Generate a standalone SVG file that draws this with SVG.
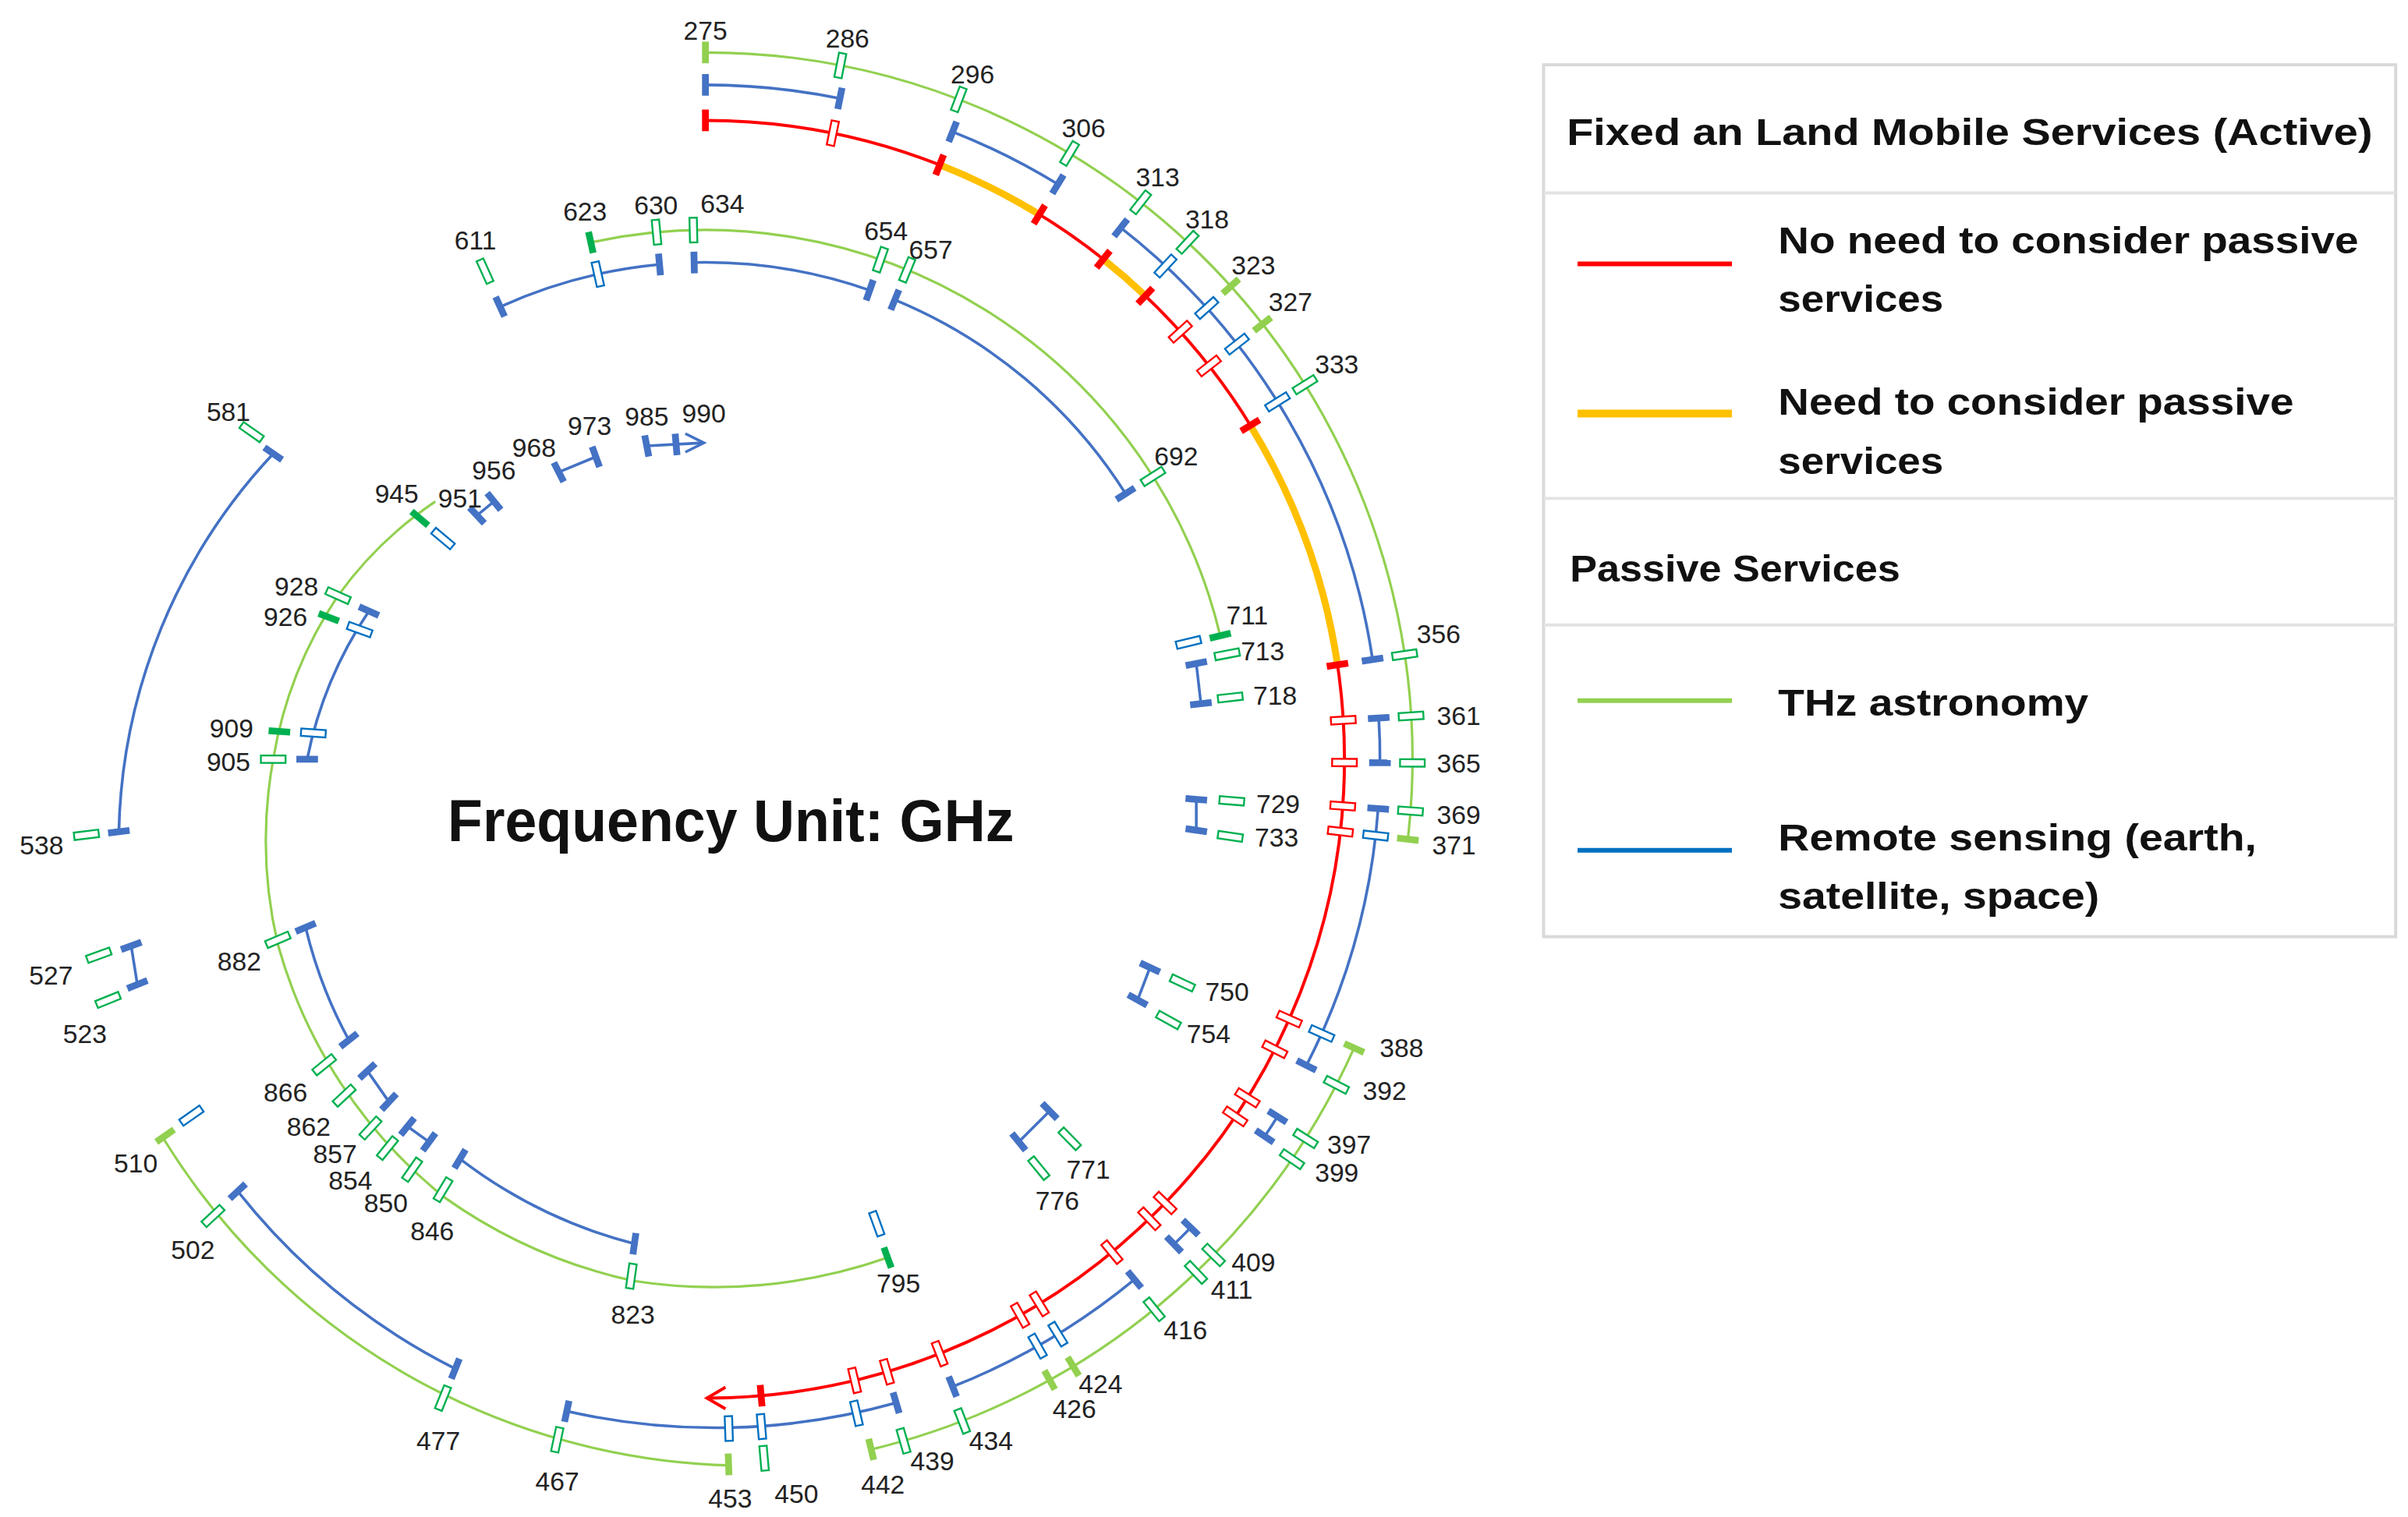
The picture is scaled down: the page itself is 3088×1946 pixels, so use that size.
<svg xmlns="http://www.w3.org/2000/svg" xmlns:xlink="http://www.w3.org/1999/xlink" width="3088" height="1946" viewBox="0 0 3088 1946">
<style>
.g{fill:none;stroke:#92d050;stroke-width:1.6}
.b{fill:none;stroke:#4472c4;stroke-width:1.8}
.r{fill:none;stroke:#ff0000;stroke-width:2}
.y{fill:none;stroke:#ffc000;stroke-width:4.5}
.sb{fill:#4472c4}.sr{fill:#ff0000}.sg{fill:#92d050}.sd{fill:#00b050}
.ob{fill:#fff;stroke:#0070c0;stroke-width:1.2}
.og{fill:#fff;stroke:#00b050;stroke-width:1.2}
.or{fill:#fff;stroke:#ff0000;stroke-width:1.2}
.lb text{font-family:"Liberation Sans",Arial,sans-serif;font-size:17px;fill:#222;text-anchor:middle;dominant-baseline:central}
.lg text{font-family:"Liberation Sans",Arial,sans-serif;font-weight:bold;font-size:24px;fill:#111}
</style>
<defs>
<rect id="st" x="-7" y="-2.2" width="14" height="4.4"/>
<rect id="bx" x="-8" y="-2.4" width="16" height="4.8"/>
</defs>
<rect width="3088" height="1946" fill="#fff"/>
<g transform="scale(1.9795)">
<g id="connectors">
<!-- outer green -->
<path class="g" d="M457,34 A458 458 0 0 1 912.1,543.8"/>
<path class="g" d="M877.2,679.1 A460 460 0 0 1 564.4,939.3"/>
<path class="g" d="M473.8,949.7 A445 445 0 0 1 106,738"/>
<!-- outer blue -->
<path class="b" d="M457,55 A437 437 0 0 1 544.1,63.8"/>
<path class="b" d="M617.2,85.4 A437 437 0 0 1 685.3,119.4"/>
<path class="b" d="M726.1,147.6 A437 437 0 0 1 889.2,427.4"/>
<path class="b" d="M893.2,465.3 A437 437 0 0 1 894,494.3"/>
<path class="b" d="M892.8,524 A437 437 0 0 1 846.4,690.4"/>
<path class="b" d="M827.6,723.6 A437 437 0 0 1 819.3,736.4"/>
<path class="b" d="M771.3,795.6 A437 437 0 0 1 760.6,806.3"/>
<path class="b" d="M734.9,829.2 A437 437 0 0 1 617.2,898.6"/>
<path class="b" d="M580.5,909.1 A434 434 0 0 1 367.2,914.5"/>
<path class="b" d="M295,887 A422 422 0 0 1 154,772"/>
<!-- red / yellow -->
<path class="r" d="M457,78 A414 414 0 0 1 871,492 A414 414 0 0 1 458,906"/>
<path class="y" d="M608.7,106.8 A414 414 0 0 1 673.3,139"/>
<path class="y" d="M714.7,168 A414 414 0 0 1 742,191.7"/>
<path class="y" d="M810,275.7 A414 414 0 0 1 866.5,430.8"/>
<polyline class="r" points="470,899 458,906 470,913"/>
<!-- 600s ring -->
<path class="g" d="M382.8,157.1 A343 343 0 0 1 790.5,411.9"/>
<path class="b" d="M324,198.8 A322 322 0 0 1 427.2,171.4"/>
<path class="b" d="M449.7,170.1 A322 322 0 0 1 563.4,188.1"/>
<path class="b" d="M579.7,194.3 A322 322 0 0 1 729.2,319.9"/>
<line class="b" x1="775" y1="430" x2="778" y2="456"/>
<line class="b" x1="775" y1="518" x2="775" y2="538"/>
<line class="b" x1="745" y1="627" x2="737" y2="648"/>
<line class="b" x1="680" y1="720" x2="660" y2="740"/>
<!-- inner spiral -->
<path class="g" d="M575,815 A340 340 0 0 1 410,830 A335 335 0 0 1 288,776 A320 320 0 0 1 180,612 A295 295 0 0 1 177,492 A270 270 0 0 1 219,386 A250 250 0 0 1 282,325"/>
<path class="b" d="M411,806 A315 315 0 0 1 298,751"/>
<line class="b" x1="278" y1="740" x2="264" y2="730"/>
<line class="b" x1="252" y1="714" x2="238" y2="694"/>
<path class="b" d="M226,674 A295 295 0 0 1 198,601"/>
<path class="b" d="M199,492 A262 262 0 0 1 239,396"/>
<line class="b" x1="309" y1="334" x2="320" y2="325"/>
<line class="b" x1="362" y1="306" x2="386" y2="296"/>
<line class="b" x1="419" y1="289" x2="455" y2="287"/>
<polyline class="b" points="444,281 456,287 444,293"/>
<path class="b" d="M77,539 A370 370 0 0 1 177,294"/>
<line class="b" x1="85" y1="613" x2="89" y2="638"/>
</g>
<g id="markers">
<!-- red ring R414 -->
<g>
<use href="#st" class="sr" x="871" y="492" transform="rotate(-90 457 492)"/>
<use href="#st" class="sr" x="871" y="492" transform="rotate(-68.5 457 492)"/>
<use href="#st" class="sr" x="871" y="492" transform="rotate(-58.5 457 492)"/>
<use href="#st" class="sr" x="871" y="492" transform="rotate(-51.5 457 492)"/>
<use href="#st" class="sr" x="871" y="492" transform="rotate(-46.5 457 492)"/>
<use href="#st" class="sr" x="871" y="492" transform="rotate(-31.5 457 492)"/>
<use href="#st" class="sr" x="871" y="492" transform="rotate(-8.5 457 492)"/>
<use href="#st" class="sr" x="871" y="492" transform="rotate(85 457 492)"/>
<use href="#bx" class="or" x="871" y="492" transform="rotate(-78.5 457 492)"/>
<use href="#bx" class="or" x="871" y="492" transform="rotate(-42 457 492)"/>
<use href="#bx" class="or" x="871" y="492" transform="rotate(-38 457 492)"/>
<use href="#bx" class="or" x="871" y="492" transform="rotate(-3.5 457 492)"/>
<use href="#bx" class="or" x="871" y="492" transform="rotate(0.3 457 492)"/>
<use href="#bx" class="or" x="871" y="492" transform="rotate(4.2 457 492)"/>
<use href="#bx" class="or" x="871" y="492" transform="rotate(6.5 457 492)"/>
<use href="#bx" class="or" x="871" y="492" transform="rotate(24 457 492)"/>
<use href="#bx" class="or" x="871" y="492" transform="rotate(27 457 492)"/>
<use href="#bx" class="or" x="871" y="492" transform="rotate(32 457 492)"/>
<use href="#bx" class="or" x="871" y="492" transform="rotate(34 457 492)"/>
<use href="#bx" class="or" x="871" y="492" transform="rotate(44 457 492)"/>
<use href="#bx" class="or" x="871" y="492" transform="rotate(46 457 492)"/>
<use href="#bx" class="or" x="871" y="492" transform="rotate(50.5 457 492)"/>
<use href="#bx" class="or" x="871" y="492" transform="rotate(58.5 457 492)"/>
<use href="#bx" class="or" x="871" y="492" transform="rotate(60.5 457 492)"/>
<use href="#bx" class="or" x="871" y="492" transform="rotate(68.5 457 492)"/>
<use href="#bx" class="or" x="871" y="492" transform="rotate(73.5 457 492)"/>
<use href="#bx" class="or" x="871" y="492" transform="rotate(76.5 457 492)"/>
</g>
<!-- blue ring R437 -->
<g>
<use href="#st" class="sb" x="894" y="492" transform="rotate(-90 457 492)"/>
<use href="#st" class="sb" x="894" y="492" transform="rotate(-78.5 457 492)"/>
<use href="#st" class="sb" x="894" y="492" transform="rotate(-68.5 457 492)"/>
<use href="#st" class="sb" x="894" y="492" transform="rotate(-58.5 457 492)"/>
<use href="#st" class="sb" x="894" y="492" transform="rotate(-52 457 492)"/>
<use href="#st" class="sb" x="894" y="492" transform="rotate(-8.5 457 492)"/>
<use href="#st" class="sb" x="894" y="492" transform="rotate(-3.5 457 492)"/>
<use href="#st" class="sb" x="894" y="492" transform="rotate(0.3 457 492)"/>
<use href="#st" class="sb" x="894" y="492" transform="rotate(4.2 457 492)"/>
<use href="#st" class="sb" x="894" y="492" transform="rotate(27 457 492)"/>
<use href="#st" class="sb" x="894" y="492" transform="rotate(32 457 492)"/>
<use href="#st" class="sb" x="894" y="492" transform="rotate(34 457 492)"/>
<use href="#st" class="sb" x="894" y="492" transform="rotate(44 457 492)"/>
<use href="#st" class="sb" x="894" y="492" transform="rotate(46 457 492)"/>
<use href="#st" class="sb" x="894" y="492" transform="rotate(50.5 457 492)"/>
<use href="#st" class="sb" x="894" y="492" transform="rotate(68.5 457 492)"/>
<use href="#st" class="sb" x="892" y="492" transform="rotate(73.5 457 492)"/>
<use href="#st" class="sb" x="889" y="492" transform="rotate(102 457 492)"/>
<use href="#bx" class="ob" x="894" y="492" transform="rotate(-47 457 492)"/>
<use href="#bx" class="ob" x="894" y="492" transform="rotate(-42 457 492)"/>
<use href="#bx" class="ob" x="894" y="492" transform="rotate(-38 457 492)"/>
<use href="#bx" class="ob" x="894" y="492" transform="rotate(-32 457 492)"/>
<use href="#bx" class="ob" x="894" y="492" transform="rotate(6.5 457 492)"/>
<use href="#bx" class="ob" x="894" y="492" transform="rotate(24 457 492)"/>
<use href="#bx" class="ob" x="894" y="492" transform="rotate(58.5 457 492)"/>
<use href="#bx" class="ob" x="894" y="492" transform="rotate(60.5 457 492)"/>
<use href="#bx" class="ob" x="892" y="492" transform="rotate(77 457 492)"/>
<use href="#bx" class="ob" x="891" y="492" transform="rotate(85.2 457 492)"/>
<use href="#bx" class="ob" x="891" y="492" transform="rotate(88 457 492)"/>
<use href="#st" class="sb" transform="translate(295 887) rotate(112)"/>
<use href="#st" class="sb" transform="translate(154 772) rotate(137)"/>
<use href="#bx" class="ob" transform="translate(124 723) rotate(145)"/>
</g>
<!-- green rings -->
<g>
<use href="#st" class="sg" x="915" y="492" transform="rotate(-90 457 492)"/>
<use href="#st" class="sg" x="915" y="492" transform="rotate(-42 457 492)"/>
<use href="#st" class="sg" x="915" y="492" transform="rotate(-38 457 492)"/>
<use href="#st" class="sg" x="915" y="492" transform="rotate(6.5 457 492)"/>
<use href="#bx" class="og" x="915" y="492" transform="rotate(-79 457 492)"/>
<use href="#bx" class="og" x="915" y="492" transform="rotate(-69 457 492)"/>
<use href="#bx" class="og" x="915" y="492" transform="rotate(-59 457 492)"/>
<use href="#bx" class="og" x="915" y="492" transform="rotate(-52 457 492)"/>
<use href="#bx" class="og" x="915" y="492" transform="rotate(-47 457 492)"/>
<use href="#bx" class="og" x="915" y="492" transform="rotate(-32 457 492)"/>
<use href="#bx" class="og" x="915" y="492" transform="rotate(-8.5 457 492)"/>
<use href="#bx" class="og" x="915" y="492" transform="rotate(-3.5 457 492)"/>
<use href="#bx" class="og" x="915" y="492" transform="rotate(0.3 457 492)"/>
<use href="#bx" class="og" x="915" y="492" transform="rotate(4.2 457 492)"/>
<use href="#st" class="sg" x="917" y="492" transform="rotate(24 457 492)"/>
<use href="#st" class="sg" x="917" y="492" transform="rotate(58.8 457 492)"/>
<use href="#st" class="sg" x="917" y="492" transform="rotate(61 457 492)"/>
<use href="#st" class="sg" x="917" y="492" transform="rotate(76.5 457 492)"/>
<use href="#bx" class="og" x="917" y="492" transform="rotate(27.3 457 492)"/>
<use href="#bx" class="og" x="917" y="492" transform="rotate(32.3 457 492)"/>
<use href="#bx" class="og" x="917" y="492" transform="rotate(34.3 457 492)"/>
<use href="#bx" class="og" x="917" y="492" transform="rotate(44.3 457 492)"/>
<use href="#bx" class="og" x="917" y="492" transform="rotate(46.3 457 492)"/>
<use href="#bx" class="og" x="917" y="492" transform="rotate(50.8 457 492)"/>
<use href="#bx" class="og" x="917" y="492" transform="rotate(68.8 457 492)"/>
<use href="#bx" class="og" x="917" y="492" transform="rotate(73.8 457 492)"/>
<use href="#st" class="sg" transform="translate(472 949) rotate(88)"/>
<use href="#bx" class="og" transform="translate(495 945) rotate(85)"/>
<use href="#bx" class="og" transform="translate(361 933) rotate(102)"/>
<use href="#bx" class="og" transform="translate(287 906) rotate(112)"/>
<use href="#bx" class="og" transform="translate(138 788) rotate(137)"/>
<use href="#st" class="sg" transform="translate(107 736) rotate(145)"/>
</g>
<!-- 600s ring -->
<g>
<use href="#st" class="sd" x="800" y="492" transform="rotate(-102.5 457 492)"/>
<use href="#st" class="sd" x="800" y="492" transform="rotate(-13.5 457 492)"/>
<use href="#bx" class="og" x="800" y="492" transform="rotate(-95.3 457 492)"/>
<use href="#bx" class="og" x="800" y="492" transform="rotate(-91.3 457 492)"/>
<use href="#bx" class="og" x="800" y="492" transform="rotate(-70.7 457 492)"/>
<use href="#bx" class="og" x="800" y="492" transform="rotate(-67.6 457 492)"/>
<use href="#bx" class="og" x="800" y="492" transform="rotate(-32.3 457 492)"/>
<use href="#bx" class="og" x="804" y="492" transform="rotate(-114.3 457 492)"/>
<use href="#st" class="sb" x="779" y="492" transform="rotate(-114.4 457 492)"/>
<use href="#st" class="sb" x="779" y="492" transform="rotate(-95.3 457 492)"/>
<use href="#st" class="sb" x="779" y="492" transform="rotate(-91.3 457 492)"/>
<use href="#st" class="sb" x="779" y="492" transform="rotate(-70.7 457 492)"/>
<use href="#st" class="sb" x="779" y="492" transform="rotate(-67.6 457 492)"/>
<use href="#st" class="sb" x="779" y="492" transform="rotate(-32.3 457 492)"/>
<use href="#bx" class="ob" x="779" y="492" transform="rotate(-102.5 457 492)"/>
<use href="#bx" class="ob" x="779" y="492" transform="rotate(-13.6 457 492)"/>
<use href="#st" class="sb" transform="translate(775 430) rotate(-11)"/>
<use href="#st" class="sb" transform="translate(778 456) rotate(-6.5)"/>
<use href="#bx" class="og" transform="translate(795 424) rotate(-11)"/>
<use href="#bx" class="og" transform="translate(797 452) rotate(-6.5)"/>
<use href="#st" class="sb" transform="translate(775 518) rotate(4.7)"/>
<use href="#st" class="sb" transform="translate(775 538) rotate(8.2)"/>
<use href="#bx" class="og" transform="translate(798 519) rotate(4.7)"/>
<use href="#bx" class="og" transform="translate(797 542) rotate(8.2)"/>
<use href="#st" class="sb" transform="translate(745 627) rotate(25)"/>
<use href="#st" class="sb" transform="translate(737 648) rotate(29)"/>
<use href="#bx" class="og" transform="translate(766 637) rotate(25)"/>
<use href="#bx" class="og" transform="translate(757 661) rotate(29)"/>
<use href="#st" class="sb" transform="translate(680 720) rotate(45.6)"/>
<use href="#st" class="sb" transform="translate(660 740) rotate(50.7)"/>
<use href="#bx" class="og" transform="translate(693 738) rotate(45.6)"/>
<use href="#bx" class="og" transform="translate(673 757) rotate(50.7)"/>
<use href="#st" class="sd" transform="translate(575 815) rotate(70)"/>
<use href="#bx" class="ob" transform="translate(568 793) rotate(70)"/>
</g>
<!-- inner spiral -->
<g>
<use href="#bx" class="og" transform="translate(409 827) rotate(98)"/>
<use href="#bx" class="og" transform="translate(287 771) rotate(121)"/>
<use href="#bx" class="og" transform="translate(267 758) rotate(125)"/>
<use href="#bx" class="og" transform="translate(251 744) rotate(129)"/>
<use href="#bx" class="og" transform="translate(240 731) rotate(133)"/>
<use href="#bx" class="og" transform="translate(223 710) rotate(137)"/>
<use href="#bx" class="og" transform="translate(210 690) rotate(141)"/>
<use href="#bx" class="og" transform="translate(180 609) rotate(157)"/>
<use href="#st" class="sb" transform="translate(411 806) rotate(98)"/>
<use href="#st" class="sb" transform="translate(298 751) rotate(121)"/>
<use href="#st" class="sb" transform="translate(278 740) rotate(126)"/>
<use href="#st" class="sb" transform="translate(264 730) rotate(129)"/>
<use href="#st" class="sb" transform="translate(252 714) rotate(133)"/>
<use href="#st" class="sb" transform="translate(238 694) rotate(137)"/>
<use href="#st" class="sb" transform="translate(226 674) rotate(142)"/>
<use href="#st" class="sb" transform="translate(198 601) rotate(157)"/>
<use href="#bx" class="og" transform="translate(177 492) rotate(180)"/>
<use href="#st" class="sd" transform="translate(181 474) rotate(184)"/>
<use href="#st" class="sd" transform="translate(213 400) rotate(201)"/>
<use href="#bx" class="og" transform="translate(219 386) rotate(204)"/>
<use href="#st" class="sd" transform="translate(272 336) rotate(220)"/>
<use href="#st" class="sb" transform="translate(199 492) rotate(180)"/>
<use href="#bx" class="ob" transform="translate(203 475) rotate(184)"/>
<use href="#bx" class="ob" transform="translate(233 408) rotate(200)"/>
<use href="#st" class="sb" transform="translate(239 396) rotate(204)"/>
<use href="#bx" class="ob" transform="translate(287 349) rotate(220)"/>
<use href="#st" class="sb" transform="translate(309 334) rotate(227)"/>
<use href="#st" class="sb" transform="translate(320 325) rotate(231)"/>
<use href="#st" class="sb" transform="translate(362 306) rotate(243)"/>
<use href="#st" class="sb" transform="translate(386 296) rotate(250)"/>
<use href="#st" class="sb" transform="translate(419 289) rotate(259)"/>
<use href="#st" class="sb" transform="translate(438 288) rotate(265)"/>
<use href="#st" class="sb" transform="translate(77 539) rotate(173)"/>
<use href="#st" class="sb" transform="translate(177 294) rotate(215)"/>
<use href="#bx" class="og" transform="translate(56 541) rotate(173)"/>
<use href="#bx" class="og" transform="translate(163 280) rotate(215)"/>
<use href="#st" class="sb" transform="translate(85 613) rotate(160)"/>
<use href="#st" class="sb" transform="translate(89 638) rotate(158)"/>
<use href="#bx" class="og" transform="translate(64 619) rotate(160)"/>
<use href="#bx" class="og" transform="translate(70 648) rotate(158)"/>
</g>
</g>
<g id="labels" class="lb">
<text x="457" y="20">275</text><text x="549" y="25">286</text><text x="630" y="48">296</text><text x="702" y="83">306</text>
<text x="750" y="115">313</text><text x="782" y="142">318</text><text x="812" y="172">323</text><text x="836" y="196">327</text>
<text x="866" y="236">333</text><text x="932" y="411">356</text><text x="945" y="464">361</text><text x="945" y="495">365</text>
<text x="945" y="528">369</text><text x="942" y="548">371</text><text x="908" y="679">388</text><text x="897" y="707">392</text>
<text x="874" y="742">397</text><text x="866" y="760">399</text><text x="812" y="818">409</text><text x="798" y="836">411</text>
<text x="768" y="862">416</text><text x="713" y="897">424</text><text x="696" y="913">426</text><text x="642" y="934">434</text>
<text x="604" y="947">439</text><text x="572" y="962">442</text><text x="516" y="968">450</text><text x="473" y="971">453</text>
<text x="361" y="960">467</text><text x="284" y="934">477</text><text x="125" y="810">502</text><text x="88" y="754">510</text>
<text x="55" y="670">523</text><text x="33" y="632">527</text><text x="27" y="548">538</text><text x="148" y="267">581</text>
<text x="308" y="156">611</text><text x="379" y="137">623</text><text x="425" y="133">630</text><text x="468" y="132">634</text>
<text x="574" y="150">654</text><text x="603" y="162">657</text><text x="762" y="296">692</text><text x="808" y="399">711</text>
<text x="818" y="422">713</text><text x="826" y="451">718</text><text x="828" y="521">729</text><text x="827" y="543">733</text>
<text x="795" y="643">750</text><text x="783" y="670">754</text><text x="705" y="758">771</text><text x="685" y="778">776</text>
<text x="582" y="832">795</text><text x="410" y="852">823</text><text x="280" y="798">846</text><text x="250" y="780">850</text>
<text x="227" y="765">854</text><text x="217" y="748">857</text><text x="200" y="730">862</text><text x="185" y="708">866</text>
<text x="155" y="623">882</text><text x="148" y="494">905</text><text x="150" y="472">909</text><text x="185" y="400">926</text>
<text x="192" y="380">928</text><text x="257" y="320">945</text><text x="298" y="323">951</text><text x="320" y="305">956</text>
<text x="346" y="290">968</text><text x="382" y="276">973</text><text x="419" y="270">985</text><text x="456" y="268">990</text>
</g>
<text x="290" y="545" font-family="'Liberation Sans',Arial,sans-serif" font-weight="bold" font-size="38" textLength="367" lengthAdjust="spacingAndGlyphs" fill="#111">Frequency Unit: GHz</text>
<g id="legend" class="lg">
<rect x="1000" y="42" width="552" height="565" fill="#fff" stroke="#d9d9d9" stroke-width="2"/>
<line x1="1000" y1="125" x2="1552" y2="125" stroke="#e3e3e3" stroke-width="2"/>
<line x1="1000" y1="323" x2="1552" y2="323" stroke="#e3e3e3" stroke-width="2"/>
<line x1="1000" y1="405" x2="1552" y2="405" stroke="#e3e3e3" stroke-width="2"/>
<text x="1015" y="94" textLength="522" lengthAdjust="spacingAndGlyphs">Fixed an Land Mobile Services  (Active)</text>
<line x1="1022" y1="171" x2="1122" y2="171" stroke="#ff0000" stroke-width="3"/>
<text x="1152" y="164" textLength="376" lengthAdjust="spacingAndGlyphs">No need to consider passive</text>
<text x="1152" y="202" textLength="107" lengthAdjust="spacingAndGlyphs">services</text>
<line x1="1022" y1="268" x2="1122" y2="268" stroke="#ffc000" stroke-width="5"/>
<text x="1152" y="269" textLength="334" lengthAdjust="spacingAndGlyphs">Need to consider passive</text>
<text x="1152" y="307" textLength="107" lengthAdjust="spacingAndGlyphs">services</text>
<text x="1017" y="377" textLength="214" lengthAdjust="spacingAndGlyphs">Passive Services</text>
<line x1="1022" y1="454" x2="1122" y2="454" stroke="#92d050" stroke-width="3"/>
<text x="1152" y="464" textLength="201" lengthAdjust="spacingAndGlyphs">THz astronomy</text>
<line x1="1022" y1="551" x2="1122" y2="551" stroke="#0070c0" stroke-width="3"/>
<text x="1152" y="551" textLength="310" lengthAdjust="spacingAndGlyphs">Remote sensing (earth,</text>
<text x="1152" y="589" textLength="208" lengthAdjust="spacingAndGlyphs">satellite, space)</text>
</g>
</g>
</svg>
